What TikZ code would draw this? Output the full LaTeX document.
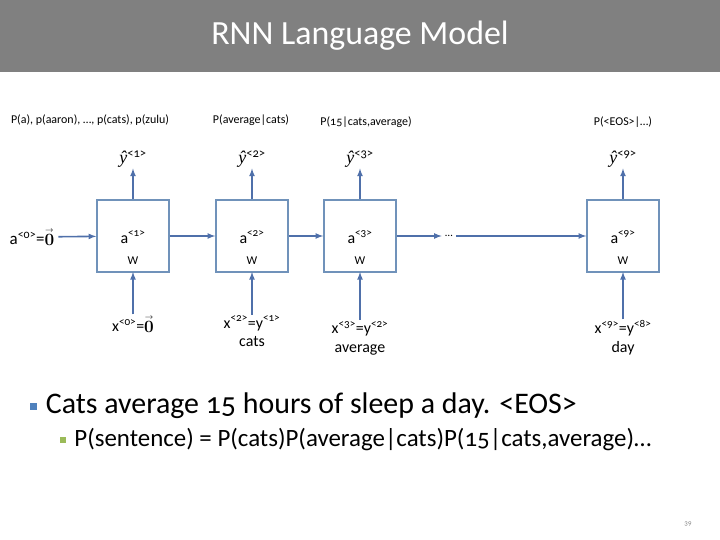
\documentclass[tikz,border=0pt]{standalone}
\usepackage[no-math]{fontspec}
\setmainfont{Carlito}[Numbers=OldStyle]
\newfontfamily\yfont{Liberation Serif}
\usetikzlibrary{arrows,positioning}
\definecolor{titlegray}{RGB}{128,128,128}
\definecolor{boxblue}{RGB}{112,146,186}
\definecolor{arrowblue}{RGB}{79,112,170}
\definecolor{bulletblue}{RGB}{79,129,189}
\definecolor{bulletgreen}{RGB}{155,187,89}
\newcommand{\fs}[1]{\fontsize{#1}{#1}\selectfont}
\newcommand{\zerovec}{$\stackrel{\scriptscriptstyle\rightarrow}{\mathbf{0}}$}
\newcommand{\yhat}[1]{{\yfont\itshape ŷ}\textsuperscript{<#1>}}

\begin{document}
\begin{tikzpicture}[x=1bp,y=-1bp,
	cell/.style={draw=boxblue,line width=1.6bp,minimum size=72bp,inner sep=0pt},
	link/.style={draw=arrowblue,line width=1.6bp,-latex},
	prob/.style={font=\fs{12}},
	state/.style={font=\fs{16}},
	weight/.style={font=\fs{12}},
	outlabel/.style={font=\fs{18},inner sep=1bp},
	inword/.style={font=\fs{16},align=center,inner sep=1bp}]
	\useasboundingbox (0,0) rectangle (720,540);
	% title bar
	\fill[titlegray] (0,0) rectangle (720,72);
	\node[white,font=\fs{34}] (title) at (360,36) {RNN Language Model};
	% cells
	\node[cell] (c1) at (133,236) {};
	\node[cell] (c2) at (252,236) {};
	\node[cell] (c3) at (360,236) {};
	\node[cell] (c4) at (623,236) {};
	\node[state] (a1) at (133,237) {a\textsuperscript{<1>}};
	\node[state] (a2) at (252,237) {a\textsuperscript{<2>}};
	\node[state] (a3) at (360,237) {a\textsuperscript{<3>}};
	\node[state] (a9) at (623,237) {a\textsuperscript{<9>}};
	\node[weight] (w1) at (133,261) {W};
	\node[weight] (w2) at (252,261) {W};
	\node[weight] (w3) at (360,261) {W};
	\node[weight] (w9) at (623,261) {W};
	% outputs
	\node[outlabel] (y1) at (133,159) {\yhat{1}};
	\node[outlabel] (y2) at (252,159) {\yhat{2}};
	\node[outlabel] (y3) at (360,159) {\yhat{3}};
	\node[outlabel] (y9) at (623,159) {\yhat{9}};
	\node[prob] (p1) at (90,120) {P(a), p(aaron), \ldots, p(cats), p(zulu)};
	\node[prob] (p2) at (251,120) {P(average|cats)};
	\node[prob] (p3) at (366,122) {P(15|cats,average)};
	\node[prob] (p9) at (623,122) {P(<EOS>|\ldots)};
	% inputs
	\node[font=\fs{17},inner sep=4bp] (a0) at (32,237) {a\textsuperscript{<0>}=\zerovec};
	\node[font=\fs{11}] (dots) at (449,236) {\ldots};
	\node[inword] (x1) at (133,324) {x\textsuperscript{<0>}=\zerovec};
	\node[inword] (x2) at (252,331) {x\textsuperscript{<2>}=y\textsuperscript{<1>}\\[2bp]cats};
	\node[inword] (x3) at (360,338) {x\textsuperscript{<3>}=y\textsuperscript{<2>}\\[3bp]average};
	\node[inword] (x9) at (623,338) {x\textsuperscript{<9>}=y\textsuperscript{<8>}\\[3bp]day};
	% connectors
	\draw[link] (a0) -- (c1);
	\draw[link] (c1) -- (c2);
	\draw[link] (c2) -- (c3);
	\draw[link] (c3) -- (dots);
	\draw[link] (dots) -- (c4);
	\foreach \i in {1,2,3,9} {
		\draw[link] (x\i) -- (a\i |- {(0,272)});
	}
	\draw[link] (c1) -- (y1);
	\draw[link] (c2) -- (y2);
	\draw[link] (c3) -- (y3);
	\draw[link] (c4) -- (y9);
	% bullets
	\node[fill=bulletblue,minimum size=7bp,inner sep=0pt] (b1) at (33,406) {};
	\node[right=9bp of b1,font=\fs{30},inner sep=0pt] (t1) {Cats average 15 hours of sleep a day. <EOS>};
	\node[fill=bulletgreen,minimum size=6bp,inner sep=0pt] (b2) at (63,440) {};
	\node[right=8bp of b2,font=\fs{25},inner sep=0pt] (t2) {P(sentence) = P(cats)P(average|cats)P(15|cats,average)\ldots};
	\node[gray,font=\fs{7}] (page) at (688,524) {39};
\end{tikzpicture}
\end{document}
